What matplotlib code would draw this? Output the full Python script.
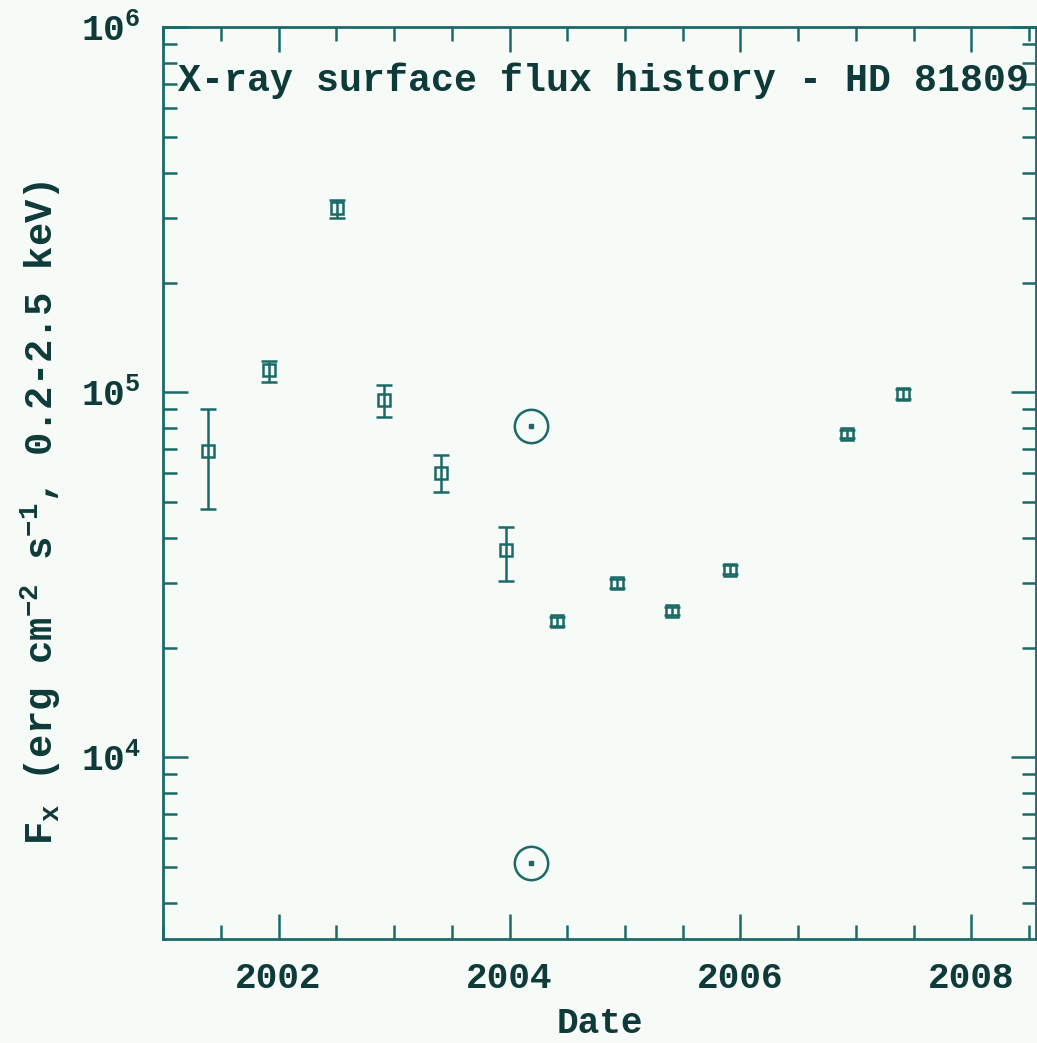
import numpy as np
import matplotlib
matplotlib.use("Agg")
import matplotlib.pyplot as plt
from matplotlib.ticker import LogLocator, MultipleLocator, FixedLocator

# Data (decimal year, flux, lower/upper error)
years = [2001.39, 2001.92, 2002.51, 2002.91, 2003.41, 2003.97,
         2004.41, 2004.93, 2005.41, 2005.91, 2006.92, 2007.41]
flux = [6.9e4, 1.15e5, 3.2e5, 9.55e4, 6.0e4, 3.7e4,
        2.36e4, 3.0e4, 2.52e4, 3.27e4, 7.7e4, 9.9e4]
err_lo = [2.1e4, 0.08e5, 0.2e5, 1.0e4, 0.68e4, 0.65e4,
          0.07e4, 0.09e4, 0.07e4, 0.09e4, 0.2e4, 0.3e4]
err_hi = [2.1e4, 0.07e5, 0.17e5, 0.9e4, 0.73e4, 0.59e4,
          0.07e4, 0.09e4, 0.07e4, 0.09e4, 0.2e4, 0.3e4]

# solar-symbol reference points
sun_years = [2004.19, 2004.19]
sun_flux = [8.1e4, 5.13e3]

title = "X-ray surface flux history - HD 81809"
xlabel = "Date"
ylabel = r"F$_{\rm x}$ (erg cm$^{-2}$ s$^{-1}$, 0.2-2.5 keV)"

LINE = "#1b6a68"
TEXT = "#0e3b3a"
BG = "#f6fbf8"

plt.rcParams['font.family'] = ['Liberation Mono', 'DejaVu Sans Mono']
plt.rcParams['font.weight'] = 'bold'
plt.rcParams['axes.labelweight'] = 'bold'
plt.rcParams['mathtext.fontset'] = 'custom'
plt.rcParams['mathtext.rm'] = 'Liberation Mono:bold'
plt.rcParams['mathtext.it'] = 'Liberation Mono:bold'
plt.rcParams['mathtext.bf'] = 'Liberation Mono:bold'

fig = plt.figure(figsize=(10.37, 10.43), dpi=100, facecolor=BG)
ax = fig.add_axes([0.1572, 0.0997, 0.842, 0.874], facecolor=BG)

ax.errorbar(years, flux, yerr=[err_lo, err_hi], fmt='s', ms=9, mfc='none',
            mec=LINE, mew=1.8, ecolor=LINE, elinewidth=1.8, capsize=6,
            capthick=1.8)
ax.plot(sun_years, sun_flux, 'o', ms=24, mfc='none', mec=LINE, mew=1.8)
ax.plot(sun_years, sun_flux, 's', ms=2.5, color=LINE)

ax.set_yscale('log')
ax.set_xlim(2001.0, 2008.56)
ax.set_ylim(3.18e3, 1.0e6)

ax.xaxis.set_major_locator(MultipleLocator(2))
ax.xaxis.set_minor_locator(MultipleLocator(0.5))
ax.yaxis.set_major_locator(FixedLocator([1e4, 1e5, 1e6]))
ax.yaxis.set_minor_locator(LogLocator(base=10, subs=np.arange(2, 10)))
ax.yaxis.set_major_formatter(plt.FuncFormatter(
    lambda v, p: r"10$^{%d}$" % round(np.log10(v))))

ax.tick_params(which='both', direction='in', top=True, right=True,
               color=LINE, labelcolor=TEXT, labelsize=26, width=1.8)
ax.tick_params(which='major', length=18)
ax.tick_params(which='minor', length=10)
ax.tick_params(axis='x', pad=16)
ax.tick_params(axis='y', pad=16)
for s in ax.spines.values():
    s.set_color(LINE)
    s.set_linewidth(2)

ax.set_xlabel(xlabel, fontsize=26, color=TEXT, labelpad=7)
ax.set_ylabel(ylabel, fontsize=28, color=TEXT)
ax.yaxis.set_label_coords(-0.115, 0.468)

ax.text(0.505, 0.942, title, transform=ax.transAxes, ha='center',
        va='center', fontsize=27.5, color=TEXT)

fig.savefig("out.png", dpi=100, facecolor=BG)
